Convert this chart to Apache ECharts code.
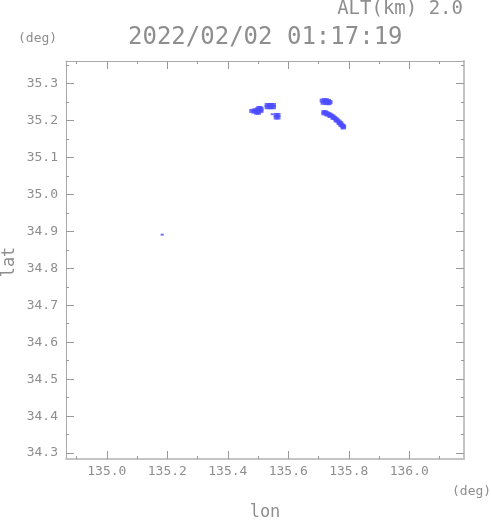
<!DOCTYPE html>
<html>
<head>
<meta charset="utf-8">
<script src="https://cdn.jsdelivr.net/npm/echarts@6/dist/echarts.min.js"></script>
<style>html,body{margin:0;padding:0;background:#fff;}#c{width:491px;height:521px;}</style>
</head>
<body>
<div id="c"></div>
<script>
const titleText = '2022/02/02 01:17:19';
const altText = 'ALT(km) 2.0';
const lonRange = [134.865, 136.181];
const latRange = [34.284, 35.361];
const lonTicks = [135.0, 135.2, 135.4, 135.6, 135.8, 136.0];
const lonMinor = [134.9, 135.1, 135.3, 135.5, 135.7, 135.9, 136.1];
const latTicks = [34.3, 34.4, 34.5, 34.6, 34.7, 34.8, 34.9, 35.0, 35.1, 35.2, 35.3];
const latMinor = [34.35, 34.45, 34.55, 34.65, 34.75, 34.85, 34.95, 35.05, 35.15, 35.25, 35.35];

// echo cells [lon, lat]
const cellA = [[135.479,35.226],[135.486,35.224],[135.490,35.228],[135.494,35.226],[135.498,35.230],[135.498,35.224],
  [135.502,35.233],[135.506,35.234],[135.506,35.228],[135.510,35.232],[135.510,35.226],[135.502,35.221],[135.495,35.221]];
const cellB = [[135.530,35.242],[135.537,35.242],[135.544,35.242],[135.551,35.242],
  [135.530,35.236],[135.537,35.236],[135.544,35.236],[135.551,35.236]];
const cellC = [[135.560,35.215],[135.566,35.215],[135.560,35.208],[135.566,35.208]];
const cellD = [[135.712,35.254],[135.719,35.255],[135.726,35.255],[135.733,35.253],[135.738,35.250],
  [135.715,35.248],[135.722,35.248],[135.729,35.247],[135.735,35.247]];
const cellE = [[135.718,35.223],[135.718,35.219],[135.723,35.222],[135.728,35.220],[135.728,35.216],[135.733,35.217],
  [135.738,35.216],[135.738,35.212],[135.743,35.213],[135.748,35.211],[135.748,35.207],[135.753,35.207],
  [135.758,35.204],[135.758,35.200],[135.763,35.200],[135.768,35.197],[135.768,35.193],[135.771,35.193],
  [135.774,35.192],[135.774,35.188],[135.778,35.187],[135.781,35.185],[135.781,35.181],[135.783,35.183]];
const specks = [[135.547,35.217],[135.183,34.891]];

const FONT = 'DejaVu Sans Mono';
const TXT = '#8e8e8e';
const chart = echarts.init(document.getElementById('c'), null, {renderer: 'canvas'});

function xAx(pos, ticks, len, labels, line) {
  return {
    type: 'value', position: pos, min: lonRange[0], max: lonRange[1],
    axisLine: {show: !!line, onZero: false, lineStyle: line || {}},
    axisTick: {show: true, inside: true, length: len, customValues: ticks, lineStyle: {color: '#999', width: 1}},
    axisLabel: labels ? {show: true, customValues: ticks, margin: 6, formatter: v => v.toFixed(1),
      color: TXT, fontFamily: FONT, fontSize: 13} : {show: false},
    splitLine: {show: false}
  };
}
function yAx(pos, ticks, len, labels, line) {
  return {
    type: 'value', position: pos, min: latRange[0], max: latRange[1],
    axisLine: {show: !!line, onZero: false, lineStyle: line || {}},
    axisTick: {show: true, inside: true, length: len, customValues: ticks, lineStyle: {color: '#999', width: 1}},
    axisLabel: labels ? {show: true, customValues: ticks, margin: 8, formatter: v => v.toFixed(1),
      color: TXT, fontFamily: FONT, fontSize: 13} : {show: false},
    splitLine: {show: false}
  };
}

const blue = '#4b4bff';
const cells = [cellA, cellB, cellC, cellD, cellE];
const series = cells.map(d => ({
  type: 'scatter', data: d, symbol: 'rect', symbolSize: [5, 4],
  itemStyle: {color: blue}, silent: true, animation: false
}));
series.push({type: 'scatter', data: specks, symbol: 'rect', symbolSize: [3, 2],
  itemStyle: {color: blue}, silent: true, animation: false});

chart.setOption({
  animation: false,
  backgroundColor: '#fff',
  grid: {left: 66, top: 61, width: 398, height: 398, containLabel: false},
  xAxis: [
    xAx('bottom', lonTicks, 8, true, {color: '#c4c4c4', width: 2}),
    xAx('top', lonTicks, 8, false, {color: '#aaa', width: 1}),
    xAx('bottom', lonMinor, 3, false, null),
    xAx('top', lonMinor, 3, false, null)
  ],
  yAxis: [
    yAx('left', latTicks, 8, true, {color: '#aaa', width: 1}),
    yAx('right', latTicks, 8, false, {color: '#c4c4c4', width: 2}),
    yAx('left', latMinor, 3, false, null),
    yAx('right', latMinor, 3, false, null)
  ],
  series: series,
  graphic: [
    {type: 'text', left: 128, top: 26, style: {text: titleText, fill: TXT, font: '24px "' + FONT + '"'}},
    {type: 'text', right: 28, top: 0, style: {text: altText, fill: TXT, font: '19px "' + FONT + '"'}},
    {type: 'text', left: 18, top: 32, style: {text: '(deg)', fill: TXT, font: '13px "' + FONT + '"'}},
    {type: 'text', left: 452, top: 485, style: {text: '(deg)', fill: TXT, font: '13px "' + FONT + '"'}},
    {type: 'text', x: 265, y: 513, style: {text: 'lon', fill: TXT, font: '17px "' + FONT + '"', align: 'center', verticalAlign: 'middle'}},
    {type: 'text', x: 10, y: 262, rotation: Math.PI / 2, style: {text: 'lat', fill: TXT, font: '17px "' + FONT + '"', align: 'center', verticalAlign: 'middle'}}
  ]
});
</script>
</body>
</html>
